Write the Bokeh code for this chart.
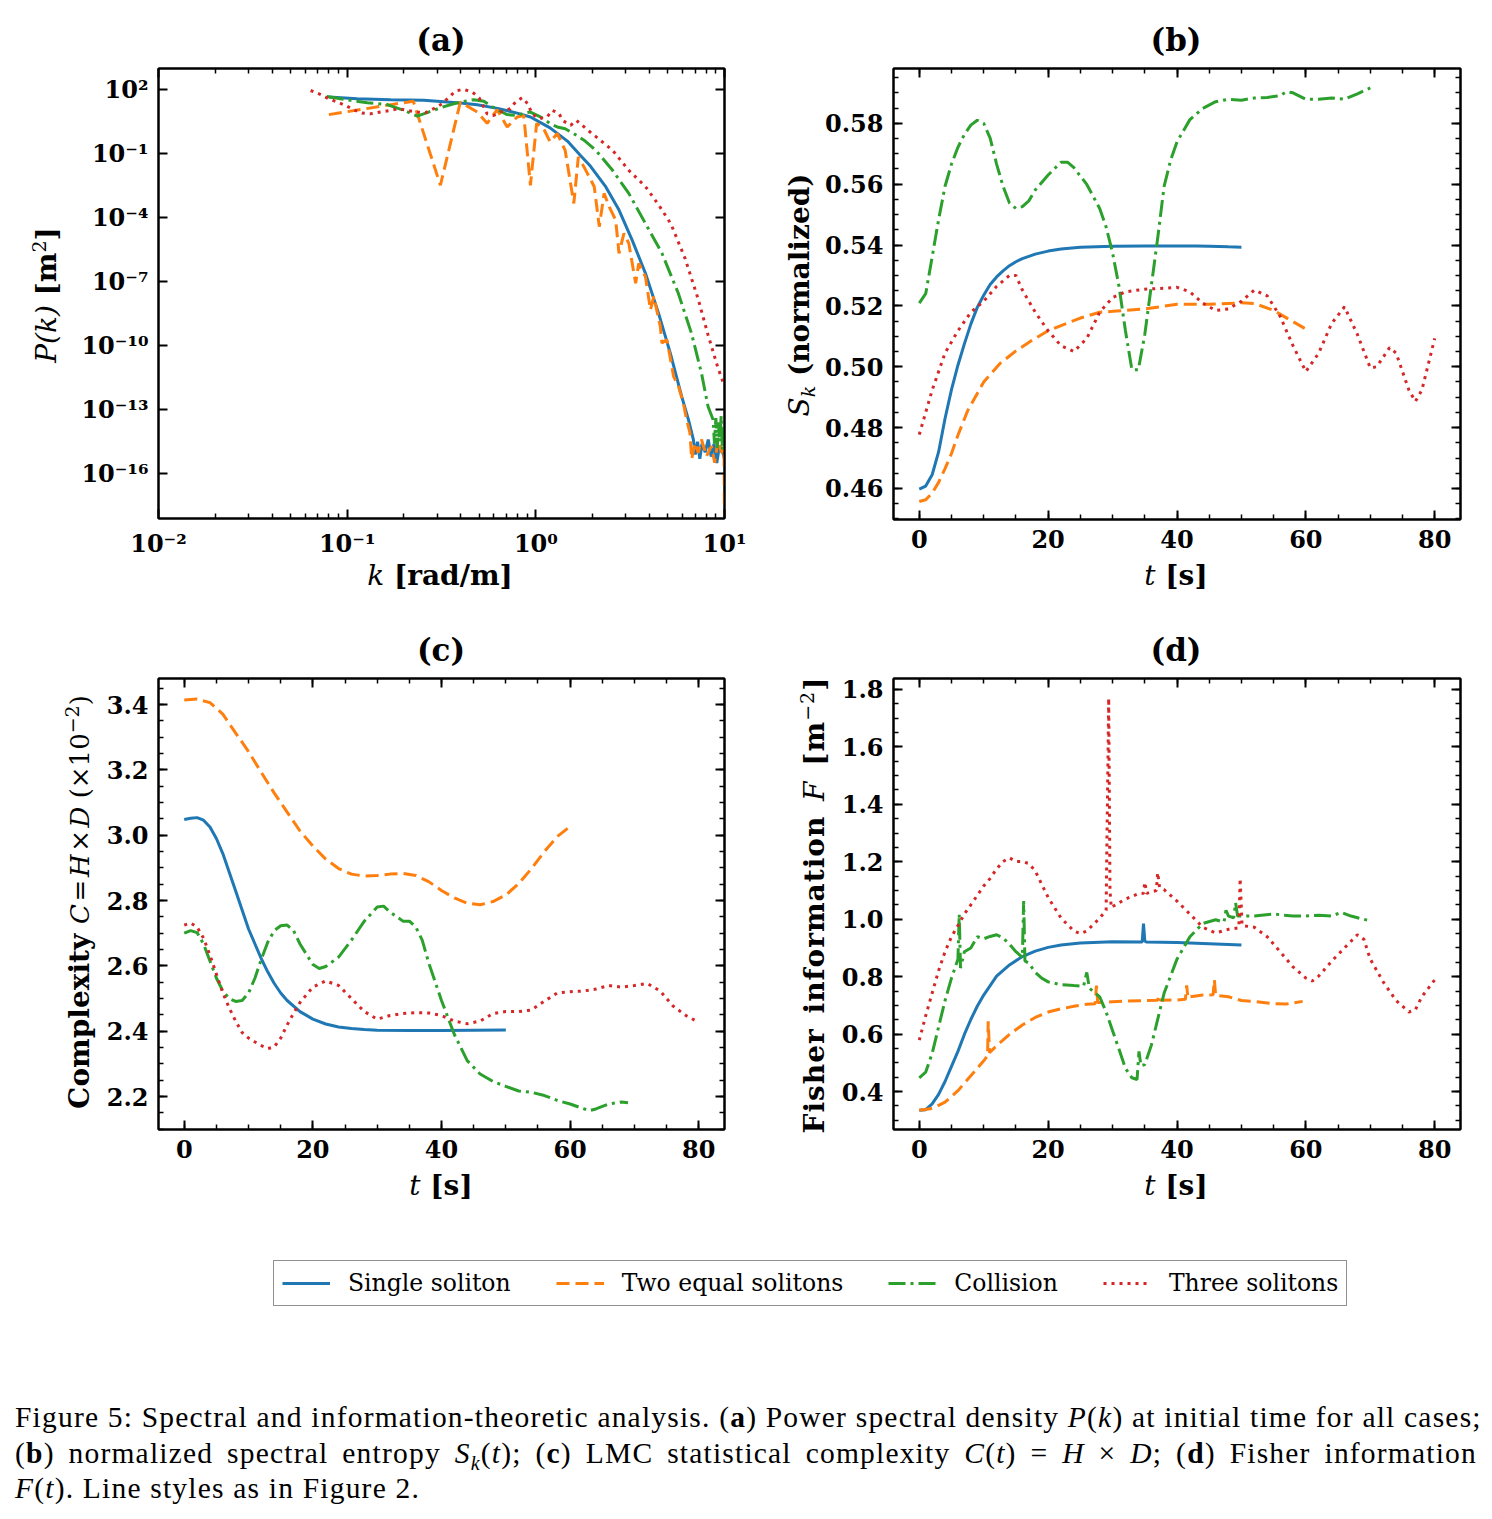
from bokeh.embed import file_html
from bokeh.layouts import column, row
from bokeh.models import (CustomJSTickFormatter, Div, FixedTicker, Legend, LegendItem,
                          LinearAxis, LogAxis, Range1d)
from bokeh.plotting import figure
from bokeh.resources import INLINE

# ------------------------------------------------------------------ data
series_names = ["Single soliton", "Two equal solitons", "Collision", "Three solitons"]
series_colors = ["#1f77b4", "#ff7f0e", "#2ca02c", "#d62728"]
series_dashes = ["solid", "13 6", "17 5 3 5", "3 5"]

# (a) power spectral density: wavenumber k [rad/m] and log10 P(k) [m^2]
psd_k_single = [0.080, 0.113, 0.17, 0.255, 0.398, 0.489, 0.636, 0.796, 0.936, 1.19,
                1.47, 1.72, 1.95, 2.35, 2.76, 3.24, 3.81, 4.47, 5.16, 5.93,
                6.44, 6.84, 7.0, 7.2, 7.4, 7.6, 7.9, 8.2, 8.5, 8.8,
                9.1, 9.4, 9.7, 10.0]
psd_log_single = [1.64, 1.56, 1.52, 1.49, 1.36, 1.28, 1.10, 0.89, 0.71, 0.20,
                  -0.42, -1.08, -1.60, -2.57, -3.65, -5.06, -6.61, -8.48, -10.35, -12.38,
                  -13.47, -14.4, -15.1, -14.5, -15.3, -14.6, -15.0, -14.4, -15.2, -14.6,
                  -15.5, -14.7, -14.9, -15.3]

psd_k_two = [0.08, 0.224, 0.312, 0.398, 0.489, 0.552, 0.624, 0.705, 0.796, 0.863,
             0.936, 1.01, 1.10, 1.19, 1.30, 1.43, 1.59, 1.68, 1.80, 1.92,
             2.04, 2.17, 2.30, 2.45, 2.65, 2.76, 2.93, 3.11, 3.38, 3.51,
             3.81, 4.05, 4.22, 4.57, 4.66, 4.95, 5.26, 5.37, 5.70, 6.05,
             6.30, 6.56, 6.70, 6.97, 7.26, 7.55, 8.03, 8.53, 8.87, 9.24,
             9.62, 9.94, 10.0]
psd_log_two = [0.82, 1.45, -2.49, 1.41, 0.94, 0.41, 1.05, 0.24, 0.71, 0.78,
               -2.49, 0.41, 0.16, -0.46, -0.07, -0.85, -3.34, -1.16, -1.63, -2.10,
               -2.56, -4.43, -2.87, -3.50, -4.12, -5.68, -4.74, -5.21, -7.08, -6.15,
               -6.77, -8.33, -7.70, -9.11, -9.88, -9.73, -10.98, -11.44, -11.91, -12.69,
               -13.47, -14.09, -15.32, -14.56, -15.02, -14.40, -15.18, -14.71, -15.49, -14.40,
               -15.02, -14.8, -17.98]

psd_k_collision = [0.078, 0.104, 0.128, 0.163, 0.20, 0.235, 0.27, 0.312, 0.367, 0.415,
                   0.469, 0.53, 0.574, 0.624, 0.705, 0.796, 0.863, 0.936, 1.057, 1.19,
                   1.30, 1.43, 1.59, 1.80, 2.08, 2.55, 3.11, 3.81, 4.66, 5.69,
                   6.68, 7.55, 8.18, 8.7, 8.85, 9.0, 9.15, 9.3, 9.45, 9.6,
                   9.75, 9.9, 10.0]
psd_log_collision = [1.67, 1.49, 1.38, 1.29, 1.02, 0.75, 0.94, 1.14, 1.33, 1.44,
                     1.52, 1.45, 1.25, 1.05, 0.82, 0.78, 0.89, 0.94, 0.71, 0.40,
                     0.24, 0.16, -0.07, -0.38, -0.85, -1.79, -2.87, -4.28, -5.67, -7.55,
                     -9.42, -11.29, -12.85, -13.47, -14.6, -13.4, -14.8, -13.6, -14.5, -13.3,
                     -14.9, -13.8, -14.2]

psd_k_three = [0.064, 0.072, 0.080, 0.0885, 0.098, 0.108, 0.12, 0.133, 0.15, 0.17,
               0.187, 0.208, 0.235, 0.26, 0.288, 0.319, 0.346, 0.375, 0.412, 0.46,
               0.50, 0.552, 0.598, 0.649, 0.733, 0.78, 0.846, 0.906, 0.955, 1.035,
               1.148, 1.22, 1.32, 1.40, 1.53, 1.64, 1.76, 1.91, 2.04, 2.55,
               3.11, 3.81, 4.47, 5.2, 6.17, 7.24, 8.18, 9.2, 10.0]
psd_log_three = [1.95, 1.77, 1.56, 1.41, 1.25, 1.05, 0.89, 0.86, 0.94, 1.02,
                 1.10, 1.02, 0.94, 0.91, 1.10, 1.33, 1.64, 1.92, 2.01, 1.88,
                 1.61, 0.86, 0.78, 0.94, 1.10, 1.41, 1.61, 1.33, 0.86, 0.63,
                 0.71, 1.02, 0.89, 0.52, 0.32, 0.55, 0.32, 0.05, -0.15, -0.85,
                 -1.79, -2.55, -3.4, -4.3, -5.9, -7.8, -9.5, -11.0, -11.9]

# (b) normalized spectral entropy S_k(t)
ent_t_single = [0, 1, 2, 3, 4, 5, 6, 7, 8, 9, 10, 11, 12, 13, 14, 15, 16, 18, 20, 22,
                25, 30, 35, 40, 43, 45, 48, 50]
ent_single = [0.4598, 0.4608, 0.4645, 0.4720, 0.4830, 0.4925, 0.5005, 0.5075, 0.5140, 0.5195,
              0.5235, 0.5270, 0.5295, 0.5315, 0.5332, 0.5345, 0.5355, 0.5370, 0.5380, 0.5387,
              0.5393, 0.5396, 0.5397, 0.5397, 0.5397, 0.5396, 0.5394, 0.5393]

ent_t_two = [0, 1, 2, 3, 4, 5, 6, 7.5, 10, 12.5, 15, 17.5, 20, 25, 28, 30, 35, 40, 45, 50,
             52, 55, 58, 60]
ent_two = [0.4557, 0.4563, 0.4585, 0.462, 0.4665, 0.4715, 0.4775, 0.4855, 0.4950, 0.5010,
           0.5052, 0.5087, 0.5118, 0.516, 0.5179, 0.5182, 0.519, 0.5205, 0.5205, 0.521,
           0.5208, 0.5185, 0.5148, 0.5124]

ent_t_collision = [0, 1, 2, 3, 4, 5, 6, 7, 8, 9, 10, 11, 12, 13, 14, 15, 16, 17, 18,
                   20, 22, 23, 24, 26, 28, 29, 30, 31, 32, 33, 34, 35, 36, 37, 38, 39, 40,
                   42, 44, 46, 48, 50, 52, 54, 56, 57, 58, 60, 62, 64, 66, 68, 70]
ent_collision = [0.5209, 0.524, 0.5361, 0.5483, 0.5593, 0.5666, 0.5721, 0.5763, 0.5794, 0.581,
                 0.58, 0.5751, 0.5666, 0.5593, 0.5538, 0.552, 0.5526, 0.5545, 0.5581,
                 0.563, 0.5672, 0.5672, 0.5654, 0.5599, 0.552, 0.5459, 0.5374,
                 0.5264, 0.5118, 0.499, 0.499, 0.5106, 0.5264, 0.5422, 0.5593, 0.5678, 0.5739,
                 0.5812, 0.5849, 0.5871, 0.5879, 0.5876, 0.5883, 0.5885, 0.5891, 0.5904, 0.59,
                 0.5879, 0.5879, 0.5883, 0.5879, 0.5897, 0.5916]

ent_t_three = [0, 2, 4, 6, 8, 10, 12, 14, 15, 16, 18, 20, 22, 24, 26, 28, 30, 32, 35, 38,
               40, 42, 44, 46, 48, 50, 52, 54, 56, 58, 60, 62, 64, 66, 68, 70, 71, 73, 74, 76,
               77, 78, 80]
ent_three = [0.4777, 0.4923, 0.5045, 0.5118, 0.5179, 0.5215, 0.5264, 0.530, 0.530, 0.5252,
             0.5179, 0.5118, 0.5069, 0.505, 0.5093, 0.5179, 0.5227, 0.5246, 0.5255, 0.5258,
             0.5261, 0.5246, 0.5209, 0.5185, 0.519, 0.5215, 0.5252, 0.5233, 0.5166, 0.5069,
             0.4984, 0.5045, 0.5142, 0.5197, 0.5106, 0.4996, 0.5, 0.5063, 0.5045, 0.4923,
             0.4886, 0.4923, 0.5093]

# (c) LMC statistical complexity C(t), units of 1e-2
cmp_t_single = [0, 1, 2, 3, 4, 5, 6, 7, 8, 9, 10, 11, 12, 13, 14, 15, 16, 18, 20, 22,
                24, 26, 28, 30, 35, 40, 45, 50]
cmp_single = [3.048, 3.052, 3.054, 3.046, 3.025, 2.99, 2.944, 2.887, 2.829, 2.771,
              2.713, 2.667, 2.621, 2.581, 2.546, 2.517, 2.494, 2.46, 2.437, 2.422,
              2.413, 2.408, 2.405, 2.403, 2.402, 2.402, 2.403, 2.404]

cmp_t_two = [0, 2, 4, 6, 8, 10, 12, 14, 16, 18, 20, 22, 24, 26, 28, 30, 32, 34, 36, 38,
             40, 42, 44, 46, 48, 50, 52, 54, 56, 58, 60]
cmp_two = [3.414, 3.417, 3.406, 3.371, 3.313, 3.256, 3.192, 3.129, 3.071, 3.013,
           2.967, 2.927, 2.898, 2.881, 2.875, 2.877, 2.881, 2.883, 2.877, 2.858,
           2.831, 2.808, 2.792, 2.787, 2.797, 2.817, 2.852, 2.898, 2.95, 2.996, 3.027]

cmp_t_collision = [0, 1, 2, 3, 4, 5, 6, 7, 8, 9, 10, 11, 12, 13, 14, 15, 16, 17, 18,
                   20, 21, 22, 24, 26, 28, 30, 31, 32, 34, 35, 36, 37, 38, 40, 42, 44, 46,
                   48, 50, 52, 54, 56, 58, 60, 62, 63, 64, 66, 68, 69]
cmp_collision = [2.70, 2.708, 2.702, 2.667, 2.615, 2.563, 2.523, 2.50, 2.491, 2.494,
                 2.517, 2.563, 2.621, 2.673, 2.708, 2.723, 2.725, 2.708, 2.667,
                 2.604, 2.592, 2.598, 2.627, 2.679, 2.737, 2.78, 2.783, 2.765, 2.737,
                 2.737, 2.719, 2.679, 2.61, 2.494, 2.39, 2.31, 2.269, 2.246, 2.231,
                 2.217, 2.213, 2.203, 2.188, 2.177, 2.163, 2.157, 2.162, 2.177, 2.183, 2.181]

cmp_t_three = [0, 1, 2, 3, 4, 5, 6, 7, 8, 9, 10, 11, 12, 13, 14, 15, 16, 17, 18,
               20, 22, 24, 26, 28, 30, 32, 34, 36, 38, 40, 42, 44, 46, 48, 50, 52, 54,
               56, 58, 60, 62, 64, 66, 68, 70, 72, 74, 76, 78, 80]
cmp_three = [2.725, 2.731, 2.719, 2.685, 2.633, 2.575, 2.517, 2.471, 2.431, 2.396,
             2.379, 2.367, 2.356, 2.347, 2.352, 2.379, 2.419, 2.455, 2.488,
             2.535, 2.554, 2.54, 2.50, 2.46, 2.437, 2.448, 2.454, 2.457, 2.456, 2.448,
             2.431, 2.423, 2.431, 2.454, 2.46, 2.46, 2.465, 2.492, 2.517, 2.521,
             2.523, 2.529, 2.54, 2.535, 2.54, 2.546, 2.523, 2.477, 2.448, 2.427]

# (d) Fisher information F(t) [m^-2]
fis_t_single = [0, 1, 2, 3, 4, 5, 6, 7, 8, 9, 10, 12, 14, 16, 18, 20, 22, 25, 30,
                34.6, 34.8, 35.0, 35.2, 40, 45, 50]
fis_single = [0.335, 0.337, 0.357, 0.39, 0.435, 0.488, 0.54, 0.599, 0.651, 0.697,
              0.736, 0.802, 0.841, 0.87, 0.889, 0.902, 0.91, 0.917, 0.922,
              0.921, 0.985, 0.925, 0.921, 0.919, 0.915, 0.91]

fis_t_two = [0, 2, 4, 6, 8, 10, 10.6, 10.7, 10.9, 12, 14, 16, 18, 20, 22, 24, 26,
             27.3, 27.5, 27.7, 28, 30, 35, 37, 37.2, 37.4, 40, 41.3, 41.5, 41.7, 42, 44,
             45.6, 45.8, 46, 48, 50, 52, 55, 57, 59.5]
fis_two = [0.335, 0.341, 0.363, 0.403, 0.455, 0.507, 0.525, 0.645, 0.535, 0.560,
           0.599, 0.632, 0.658, 0.677, 0.688, 0.697, 0.704, 0.706, 0.769, 0.71,
           0.71, 0.713, 0.717, 0.718, 0.735, 0.718, 0.719, 0.721, 0.77, 0.725,
           0.73, 0.736, 0.737, 0.789, 0.735, 0.73, 0.717, 0.714, 0.706, 0.705, 0.714]

fis_t_collision = [0, 1, 2, 3, 4, 5, 6, 6.2, 6.4, 7, 8, 9, 10, 11, 12, 13, 14, 15, 16,
                   16.2, 16.4, 17, 18, 19, 20, 22, 24, 25.5, 26, 26.4, 28, 29, 30, 31,
                   32, 33, 33.8, 34.1, 34.4, 35, 36, 37, 38, 40, 42, 44, 46, 47.3, 47.6,
                   48, 48.8, 49.1, 49.4, 50, 52, 55, 58, 60, 62, 64, 65.5, 67, 70]
fis_collision = [0.448, 0.468, 0.533, 0.625, 0.717, 0.795, 0.861, 1.018, 0.83, 0.887,
                 0.9, 0.939, 0.932, 0.94, 0.946, 0.935, 0.913, 0.887, 0.867, 1.063,
                 0.855, 0.847, 0.815, 0.795, 0.782, 0.772, 0.769, 0.767, 0.815, 0.76,
                 0.73, 0.677, 0.612, 0.547, 0.481, 0.448, 0.442, 0.54, 0.49, 0.494,
                 0.56, 0.651, 0.743, 0.861, 0.939, 0.985, 0.998, 0.99, 1.031, 1.011,
                 1.005, 1.057, 1.011, 1.011, 1.011, 1.018, 1.011, 1.011, 1.014, 1.011,
                 1.024, 1.011, 0.994]

fis_t_three = [0, 1, 2, 3, 4, 5, 6, 7, 8, 9, 10, 11, 12, 13, 14, 15, 16, 17, 18, 19, 20,
               22, 24, 25, 26, 28, 29, 29.4, 29.6, 29.8, 30, 32, 34, 34.8, 35, 35.3, 36,
               36.8, 37, 37.3, 38, 40, 42, 44, 46, 48, 49.6, 49.8, 50.1, 52, 54, 56, 58,
               60, 61, 62, 64, 66, 68, 69, 70, 72, 74, 76, 77, 78, 80]
fis_three = [0.579, 0.664, 0.743, 0.821, 0.887, 0.939, 0.978, 1.018, 1.05, 1.083,
             1.116, 1.142, 1.175, 1.201, 1.214, 1.201, 1.201, 1.194, 1.168, 1.122, 1.076,
             1.004, 0.959, 0.95, 0.959, 1.004, 1.031, 1.77, 1.10, 1.04, 1.044,
             1.07, 1.089, 1.09, 1.129, 1.09, 1.095, 1.10, 1.162, 1.11, 1.103,
             1.063, 1.018, 0.972, 0.952, 0.965, 0.97, 1.142, 0.978,
             0.972, 0.939, 0.887, 0.834, 0.795, 0.785, 0.802, 0.854, 0.9, 0.946,
             0.93, 0.861, 0.782, 0.717, 0.677, 0.685, 0.73, 0.789]

# tick values and their labels
k_ticks = [0.01, 0.1, 1.0, 10.0]
k_labels = ["10⁻²", "10⁻¹", "10⁰", "10¹"]
p_ticks = [1e2, 1e-1, 1e-4, 1e-7, 1e-10, 1e-13, 1e-16]
p_labels = ["10²", "10⁻¹", "10⁻⁴", "10⁻⁷", "10⁻¹⁰", "10⁻¹³", "10⁻¹⁶"]
t_ticks = [0, 20, 40, 60, 80]
t_labels = ["0", "20", "40", "60", "80"]
ent_ticks = [0.46, 0.48, 0.50, 0.52, 0.54, 0.56, 0.58]
ent_labels = ["0.46", "0.48", "0.50", "0.52", "0.54", "0.56", "0.58"]
cmp_ticks = [2.2, 2.4, 2.6, 2.8, 3.0, 3.2, 3.4]
cmp_labels = ["2.2", "2.4", "2.6", "2.8", "3.0", "3.2", "3.4"]
fis_ticks = [0.4, 0.6, 0.8, 1.0, 1.2, 1.4, 1.6, 1.8]
fis_labels = ["0.4", "0.6", "0.8", "1.0", "1.2", "1.4", "1.6", "1.8"]

# ------------------------------------------------------------------ styling helpers
SERIF = "DejaVu Serif"
BLOCK_W, BLOCK_H = 746, 610      # one panel cell
TITLE_H = 58                      # strip holding the panel letter
FIG_H = 502                       # figure canvas height
XLAB_H = BLOCK_H - TITLE_H - FIG_H
FRAME_TOP, FRAME_BOTTOM = 10, 41  # borders inside the figure canvas

LIN_FMT = """
let best = 0, err = Infinity;
for (let i = 0; i < vals.length; i++) {
  const e = Math.abs(tick - vals[i]);
  if (e < err) { err = e; best = i; }
}
return labs[best];
"""
LOG_FMT = """
let best = 0, err = Infinity;
for (let i = 0; i < vals.length; i++) {
  const e = Math.abs(Math.log10(tick) - Math.log10(vals[i]));
  if (e < err) { err = e; best = i; }
}
return labs[best];
"""
BLANK_FMT = "return ' ';"

TEXT_CSS = (f"font-family:'{SERIF}';font-size:28px;font-weight:bold;color:#000;"
            "line-height:1;white-space:nowrap;")
IT = "font-style:italic;font-weight:normal;"
SUP = "font-size:19px;font-weight:normal;vertical-align:0.55em;line-height:0;"
SUB = "font-size:19px;vertical-align:-0.3em;line-height:0;"


def placed_text(html, w, h, cx, cy, rotate=False, extra_css=""):
    turn = " rotate(-90deg)" if rotate else ""
    body = (f"<div style='position:relative;width:{w}px;height:{h}px;overflow:visible;'>"
            f"<div style=\"position:absolute;left:{cx}px;top:{cy}px;"
            f"transform:translate(-50%,-50%){turn};{TEXT_CSS}{extra_css}\">{html}</div></div>")
    return Div(text=body, width=w, height=h, margin=0)


def style_axis(ax, show_labels):
    ax.axis_line_width = 2
    ax.axis_line_color = "black"
    ax.major_tick_in = 9
    ax.major_tick_out = 0
    ax.minor_tick_in = 5
    ax.minor_tick_out = 0
    ax.major_tick_line_width = 2
    ax.minor_tick_line_width = 1.5
    ax.major_tick_line_color = "black"
    ax.minor_tick_line_color = "black"
    if show_labels:
        ax.major_label_text_font = SERIF
        ax.major_label_text_font_style = "bold"
        ax.major_label_text_font_size = "24px"
        ax.major_label_text_color = "black"
        ax.major_label_standoff = 10
    else:
        ax.formatter = CustomJSTickFormatter(code=BLANK_FMT)
        ax.major_label_text_font_size = "4px"
        ax.major_label_text_alpha = 0.0
        ax.major_label_standoff = 0


def set_ticks(p, dim, ticks, labels, minors, log=False):
    ticker = FixedTicker(ticks=ticks, minor_ticks=minors)
    fmt = CustomJSTickFormatter(args=dict(vals=ticks, labs=labels),
                                code=LOG_FMT if log else LIN_FMT)
    main = p.xaxis[0] if dim == "x" else p.yaxis[0]
    main.ticker = ticker
    main.formatter = fmt
    style_axis(main, True)
    twin = (LogAxis if log else LinearAxis)(ticker=ticker)
    style_axis(twin, False)
    p.add_layout(twin, "above" if dim == "x" else "right")


def panel(x_rng, y_rng, ylab_w, left, right, log=False):
    kw = dict(x_axis_type="log", y_axis_type="log") if log else {}
    p = figure(width=BLOCK_W - ylab_w, height=FIG_H, title=None,
               x_range=Range1d(*x_rng), y_range=Range1d(*y_rng),
               output_backend="svg", toolbar_location=None,
               min_border_left=left - ylab_w, min_border_right=right,
               min_border_top=FRAME_TOP, min_border_bottom=FRAME_BOTTOM, **kw)
    p.xgrid.visible = False
    p.ygrid.visible = False
    p.outline_line_color = "black"
    p.outline_line_width = 2
    p.background_fill_color = "white"
    p.border_fill_color = "white"
    return p


def draw(p, xs, ys, i):
    p.line(xs, ys, line_color=series_colors[i], line_width=3,
           line_dash=series_dashes[i])


def assemble(p, letter, ylab_w, title_cx, ylab_html, ylab_c, xlab_html, xlab_cx,
             ylab_css=""):
    title = placed_text(f"({letter})", BLOCK_W, TITLE_H, title_cx, 40,
                        extra_css="font-size:31px;")
    ylab = placed_text(ylab_html, ylab_w, FIG_H + XLAB_H, ylab_c[0], ylab_c[1] - TITLE_H,
                       rotate=True, extra_css=ylab_css)
    xlab = placed_text(xlab_html, BLOCK_W - ylab_w, XLAB_H, xlab_cx, 16)
    return column(title, row(ylab, column(p, xlab)))


T_LABEL = f"<span style='{IT}'>t</span> [s]"
t_minor = [5 * i for i in range(17)]
t_range = (-4, 84)

# ------------------------------------------------------------------ (a)
YA = 64
pa = panel((0.01, 10.0), (10 ** -18.1, 10 ** 2.98), YA, 158, 22, log=True)
set_ticks(pa, "x", k_ticks, k_labels,
          [m * 10.0 ** e for e in (-2, -1, 0) for m in range(2, 10)], log=True)
set_ticks(pa, "y", p_ticks, p_labels, [], log=True)
for i, (ks, lp) in enumerate([(psd_k_single, psd_log_single), (psd_k_two, psd_log_two),
                               (psd_k_collision, psd_log_collision),
                               (psd_k_three, psd_log_three)]):
    draw(pa, ks, [10.0 ** v for v in lp], i)
block_a = assemble(pa, "a", YA, 441,
                   f"<span style='{IT}'>P</span><span style='{IT}'>(k)</span> "
                   f"[m<span style='{SUP}'>2</span>]", (47, 295),
                   f"<span style='{IT}'>k</span> [rad/m]", 440 - YA)

# ------------------------------------------------------------------ (b)
YB = 70
pb = panel(t_range, (0.4498, 0.598), YB, 147, 32)
set_ticks(pb, "x", t_ticks, t_labels, t_minor)
set_ticks(pb, "y", ent_ticks, ent_labels, [round(0.45 + 0.005 * i, 3) for i in range(30)])
for i, (ts, vs) in enumerate([(ent_t_single, ent_single), (ent_t_two, ent_two),
                               (ent_t_collision, ent_collision), (ent_t_three, ent_three)]):
    draw(pb, ts, vs, i)
block_b = assemble(pb, "b", YB, 430,
                   f"<span style='{IT}'>S<span style='{SUB}'>k</span></span> (normalized)",
                   (54, 295), T_LABEL, 1176 - 746 - YB)

# ------------------------------------------------------------------ (c)
YC = 100
pc = panel(t_range, (2.099, 3.48), YC, 158, 22)
set_ticks(pc, "x", t_ticks, t_labels, t_minor)
set_ticks(pc, "y", cmp_ticks, cmp_labels, [round(2.1 + 0.05 * i, 2) for i in range(28)])
for i, (ts, vs) in enumerate([(cmp_t_single, cmp_single), (cmp_t_two, cmp_two),
                               (cmp_t_collision, cmp_collision), (cmp_t_three, cmp_three)]):
    draw(pc, ts, vs, i)
block_c = assemble(pc, "c", YC, 441,
                   "Complexity <span style='font-weight:normal;font-size:26px;'>"
                   "<i>C</i>&#8202;=&#8202;<i>H</i>&#8202;×&#8202;<i>D</i> "
                   f"(×10<span style='{SUP}'>−2</span>)</span>",
                   (80, 292), T_LABEL, 441 - YC)

# ------------------------------------------------------------------ (d)
YD = 88
pd = panel(t_range, (0.268, 1.838), YD, 147, 32)
set_ticks(pd, "x", t_ticks, t_labels, t_minor)
set_ticks(pd, "y", fis_ticks, fis_labels, [round(0.3 + 0.05 * i, 2) for i in range(31)])
for i, (ts, vs) in enumerate([(fis_t_single, fis_single), (fis_t_two, fis_two),
                               (fis_t_collision, fis_collision), (fis_t_three, fis_three)]):
    draw(pd, ts, vs, i)
block_d = assemble(pd, "d", YD, 430,
                   f"Fisher information <span style='{IT}'>F</span> "
                   f"[m<span style='{SUP}'>−2</span>]",
                   (69, 295), T_LABEL, 1176 - 746 - YD,
                   ylab_css="letter-spacing:1px;word-spacing:4px;")

# ------------------------------------------------------------------ shared legend
leg_fig = figure(width=1492, height=130, x_range=Range1d(0, 1), y_range=Range1d(0, 1),
                 x_axis_type=None, y_axis_type=None, output_backend="svg",
                 toolbar_location=None, min_border=0, outline_line_color=None)
items = []
for i, name in enumerate(series_names):
    r = leg_fig.line(x=[2.0, 3.0], y=[2.0, 3.0], line_color=series_colors[i], line_width=3,
                     line_dash=series_dashes[i])
    items.append(LegendItem(label=name, renderers=[r]))
legend = Legend(items=items, orientation="horizontal", location=(273, 44),
                glyph_width=48, glyph_height=20, label_standoff=18, spacing=45,
                padding=8, margin=0, label_text_font=SERIF, label_text_font_size="23.5px",
                label_text_color="black", border_line_color="#222222",
                border_line_width=1.5, background_fill_color="white",
                background_fill_alpha=1.0)
leg_fig.add_layout(legend)

# ------------------------------------------------------------------ caption
line_css = "text-align:justify;text-align-last:justify;white-space:nowrap;"
sub_css = "position:relative;top:7px;font-size:20px;line-height:0;"
caption_html = (
    "<div style=\"font-family:'Liberation Serif',serif;font-size:29.5px;line-height:35.5px;"
    "letter-spacing:1.2px;color:#000;width:1462px;margin-left:15px;padding-top:50px;\">"
    f"<div style='{line_css}'>Figure 5: Spectral and information-theoretic analysis. "
    "(<b>a</b>) Power spectral density <i>P</i>(<i>k</i>) at initial time for all cases;</div>"
    f"<div style='{line_css}'>(<b>b</b>) normalized spectral entropy "
    f"<i>S<span style='{sub_css}'>k</span></i>(<i>t</i>); (<b>c</b>) LMC statistical "
    "complexity <i>C</i>(<i>t</i>) = <i>H</i> × <i>D</i>; (<b>d</b>) Fisher information</div>"
    "<div style='white-space:nowrap;'><i>F</i>(<i>t</i>). Line styles as in Figure 2.</div>"
    "</div>"
)
caption = Div(text=caption_html, width=1492, height=169, margin=0)

layout = column(row(block_a, block_b), row(block_c, block_d), leg_fig, caption)

with open("out.html", "w") as f:
    f.write(file_html(layout, INLINE))
